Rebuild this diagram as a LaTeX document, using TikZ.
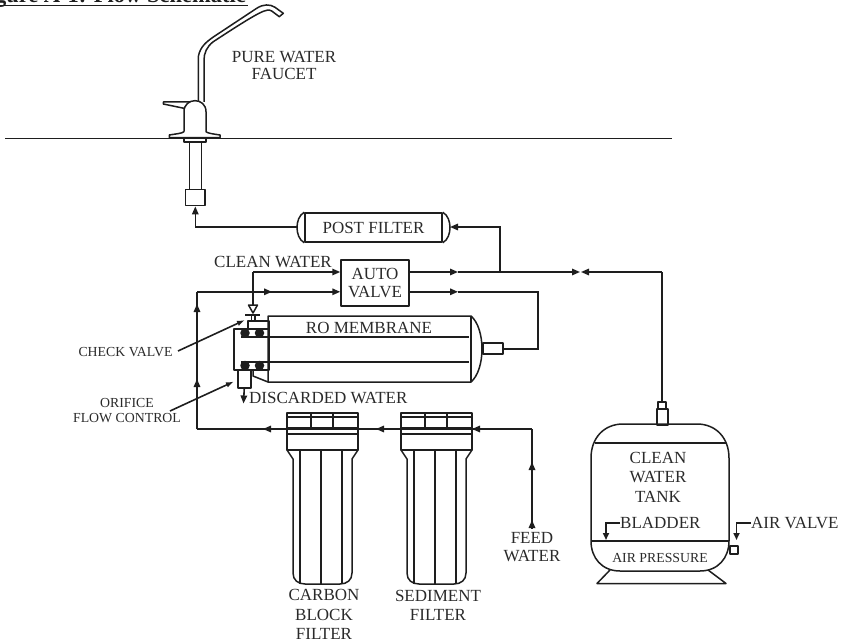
\documentclass[tikz,border=0pt]{standalone}
\usepackage{fontspec}
\setmainfont{Liberation Serif}
\usetikzlibrary{arrows.meta,decorations.markings}
\definecolor{ink}{HTML}{1E1E1E}
\definecolor{lbl}{HTML}{2A2A2A}
\newcommand{\bigf}{\fontsize{17}{18}\selectfont}
\newcommand{\smallf}{\fontsize{13.8}{15}\selectfont}
\tikzset{
  pipe/.style={draw=ink,line width=1.6pt,line join=miter},
  part/.style={draw=ink,line width=1.5pt,line join=round},
  flow/.style={pipe,-{Triangle[length=8pt,width=6.5pt]}},
  thinflow/.style={pipe,-{Latex[length=8pt,width=5.5pt]}},
  lab/.style={inner sep=0pt,text=lbl,font=\bigf,align=center},
  slab/.style={inner sep=0pt,text=lbl,font=\smallf,align=center},
  ring/.style={circle,fill=ink,inner sep=0pt,minimum size=9.5pt},
  sumpfilter/.pic={
    \draw[part] (0,413) rectangle (71,450);
    \draw[part] (0,417) -- (71,417);
    \draw[part] (0,428) -- (71,428);
    \draw[part] (0,434) -- (71,434);
    \draw[part] (24,413) -- (24,428);
    \draw[part] (46,413) -- (46,428);
    \draw[part] (0,450) -- (6,459) -- (6,573) .. controls (6,580) and (11,584) .. (18,584)
      -- (53,584) .. controls (60,584) and (65,580) .. (65,573) -- (65,459) -- (71,450);
    \draw[part] (13,450) -- (13,584);
    \draw[part] (34,450) -- (34,584);
    \draw[part] (55,450) -- (55,584);
  }
}
\begin{document}
\begin{tikzpicture}[x=1pt,y=-1pt]
\useasboundingbox (0,0) rectangle (847,642);
\clip (0,0) rectangle (847,642);

% title
\node[anchor=base east,inner sep=0pt,font=\bfseries\fontsize{22.5}{24}\selectfont,text=ink] (title) at (246,3) {Figure A-1: Flow Schematic};
\coordinate (ulL) at (0,5.5);
\coordinate (ulR) at (248,5.5);
\draw[draw=ink,line width=1.8pt] (ulL) -- (ulR);

% counter
\coordinate (ctrL) at (5,138.5);
\coordinate (ctrR) at (672,138.5);
\draw[draw=ink,line width=1.2pt] (ctrL) -- (ctrR);

% faucet
\draw[part,fill=white] (198.3,102) -- (198.3,56.7) .. controls (200,46.7) and (206.7,41.7) .. (213.3,37)
  -- (256.7,8.3) .. controls (263.3,4) and (270,4) .. (275,7.3) -- (283.3,13.3) -- (279.3,16.7) -- (271.7,11)
  .. controls (266.7,8.3) and (261.7,10) .. (213.3,41.7) .. controls (206.7,46.7) and (204,53.3) .. (204,60) -- (204,102);
\draw[part] (195,102) -- (163.3,102) -- (163.3,104) -- (184,108.3);
\draw[part,fill=white] (184,131.7) -- (184,111.7) .. controls (184,97) and (206,97) .. (206,111.7) -- (206,131.7)
  .. controls (208,133.5) and (214,134) .. (220,135) -- (220,137.7) -- (169.3,137.7) -- (169.3,135) .. controls (175,134) and (182,133.5) .. (184,131.7);
\draw[part] (184,138.5) rectangle (206,142);
\draw[part] (189.3,142) -- (189.3,190);
\draw[part] (201.7,142) -- (201.7,190);
\node[part,fill=white,minimum width=19.5pt,minimum height=16pt,inner sep=0pt] (inlet) at (195.3,197.7) {};

\node[lab] (faucetlab) at (284,65.5) {PURE WATER\\[-0.4pt]FAUCET};

% post filter
\node[part,minimum width=137pt,minimum height=29pt,inner sep=0pt,lab] (post) at (373.5,227.5) {POST FILTER};
\draw[part] (post.north west) .. controls (299,215) and (297,222) .. (297,227.5) .. controls (297,233) and (299,240) .. (post.south west);
\draw[part] (post.north east) .. controls (448,215) and (450,222) .. (450,227.5) .. controls (450,233) and (448,240) .. (post.south east);
\coordinate (postL) at (297,227);
\coordinate (postR) at (450,227);

% auto valve
\node[part,minimum width=68pt,minimum height=46pt,inner sep=0pt,lab] (auto) at (375,283) {AUTO\\VALVE};

% membrane
\coordinate (mTL) at (268,316);
\coordinate (mTR) at (471,316);
\coordinate (mBR) at (471,382);
\coordinate (mBL) at (268,382);
\draw[part] (mTL) -- (mTR) .. controls (478,322) and (482,335) .. (482,349) .. controls (482,363) and (478,376) .. (mBR) -- (mBL) -- cycle;
\draw[part] (mTR) -- (mBR);
\draw[part] (241,337) -- (469,337);
\draw[part] (241,362) -- (469,362);
\node[part,minimum width=20pt,minimum height=11pt,inner sep=0pt,anchor=west,fill=white] (port) at (482,348.5) {};
\node[lab] (rolab) at (369,328) {RO MEMBRANE};

% end block
\node[part,minimum width=35pt,minimum height=41pt,inner sep=0pt,anchor=north west] (block) at (233,328) {};
\node[part,minimum width=21pt,minimum height=8pt,inner sep=0pt,anchor=north west] (checkbox) at (247,320) {};
\node[ring] (r1) at (245,333) {};
\node[ring] (r2) at (259.5,333) {};
\node[ring] (r3) at (245,365.5) {};
\node[ring] (r4) at (259.5,365.5) {};
\node[part,minimum width=13pt,minimum height=18pt,inner sep=0pt,anchor=north west,fill=white] (orifice) at (237,369) {};
\draw[part] (253,369) -- (253,376) -- (268,382);

% check valve symbol
\coordinate (cvtip) at (253,313);
\coordinate (cvL) at (245,315);
\coordinate (cvR) at (260,315);
\draw[part] (cvL) -- (cvR);
\draw[part] (251.5,315) -- (251.5,320);
\draw[part] (255,315) -- (255,320);
\draw[part,fill=white] (248.5,305) -- (257.5,305) -- (cvtip) -- cycle;

% piping
\coordinate (cwc) at (253,272);
\coordinate (cwtop) at (253,305);
\draw[pipe] (cwtop) -- (cwc);
\draw[flow] (cwc) -- (cwc -| auto.west);
\node[lab,anchor=east] (cwlab) at (332,262) {CLEAN WATER};

\coordinate (lc) at (197,291.8);
\coordinate (lb) at (197,429);
\coordinate (a1) at (272,291.8);
\coordinate (a2) at (197,304);
\coordinate (a3) at (197,379);
\draw[flow] (lc) -- (a1);
\draw[flow] (lc) -- (lc -| auto.west);
\draw[flow] (lb) -- (a3);
\draw[flow] (lb) -- (a2);
\draw[pipe] (lb) -- (lc);

% auto valve outputs
\coordinate (j1) at (500,272);
\coordinate (a4) at (458,272);
\coordinate (a5) at (458,291.8);
\coordinate (rc1) at (538,291.8);
\coordinate (rc2) at (538,349);
\draw[flow] (auto.east |- j1) -- (a4);
\draw[pipe] (a4) -- (j1);
\draw[flow] (auto.east |- a5) -- (a5);
\draw[pipe] (a5) -- (rc1) -- (rc2) -- (port.east |- rc2);

% post filter connections
\draw[flow] (j1) -- (j1 |- postR) -- (postR);
\coordinate (ic) at (195.3,227);
\draw[flow] (postL) -- (ic) -- (inlet.south);

% tank
\coordinate (tankC) at (662,272);
\coordinate (a6) at (580,272);
\coordinate (a7) at (581,272);
\draw[flow] (j1) -- (a6);
\draw[flow] (tankC) -- (a7);
\node[part,minimum width=8pt,minimum height=7pt,inner sep=0pt,anchor=north] (tankn1) at (662,401) {};
\node[part,minimum width=11pt,minimum height=16pt,inner sep=0pt,anchor=north] (tankn2) at (662.5,408) {};
\draw[pipe] (tankC) -- (tankn1.north);

\draw[part] (623,424) -- (697,424) .. controls (716,424) and (729,438) .. (729,458)
  -- (729,541) .. controls (729,558) and (718,571) .. (700,571) -- (620,571)
  .. controls (602,571) and (591,558) .. (591,541) -- (591,458) .. controls (591,438) and (604,424) .. (623,424) -- cycle;
\draw[part] (594.5,443) -- (725.5,443);
\draw[part] (591,541) -- (729,541);
\draw[part] (610,570) -- (597,583.5) -- (726,583.5) -- (708,570);
\node[lab] (tanklab) at (658,477) {CLEAN\\[1.5pt]WATER\\[1.5pt]TANK};
\node[slab] (airp) at (660,558) {AIR PRESSURE};
\node[part,minimum width=8pt,minimum height=8pt,inner sep=0pt,anchor=north west] (airv) at (729,545) {};
\node[lab,anchor=west] (bladder) at (620,523) {BLADDER};
\node[lab,anchor=west] (airvlab) at (751,523) {AIR VALVE};
\coordinate (bc) at (606,523);
\coordinate (bt) at (606,540);
\coordinate (ac) at (736.5,523);
\draw[pipe,-{Triangle[length=7pt,width=6pt]}] (bladder.west) -- (bc) -- (bt);
\draw[pipe,-{Triangle[length=7pt,width=6pt]}] (airvlab.west) -- (ac) -- (736.5,540);

% filters
\path (287,0) pic {sumpfilter};
\path (401,0) pic {sumpfilter};
\coordinate (fc) at (532,429);
\coordinate (fb) at (532,528);
\coordinate (a8) at (263,429);
\coordinate (a9) at (376,429);
\coordinate (a10) at (472,429);
\coordinate (a11) at (532,462);
\coordinate (a12) at (532,520);
\draw[pipe] (fc) -- (lb);
\draw[flow] (fc) -- (a10);
\draw[flow] (a10) -- (a9);
\draw[flow] (a9) -- (a8);
\draw[flow] (fb) -- (a11);
\draw[flow] (fb) -- (a12);
\draw[pipe] (fb) -- (fc);

\node[lab] (feed) at (532,547) {FEED\\[0.5pt]WATER};
\node[lab] (carbon) at (324,614.5) {CARBON\\[1.5pt]BLOCK\\[1.5pt]FILTER};
\node[lab] (sediment) at (438,605.5) {SEDIMENT\\[1.5pt]FILTER};

% callouts
\node[slab] (cv) at (125.5,352) {CHECK VALVE};
\node[slab] (ofc) at (127,410.5) {ORIFICE\\FLOW CONTROL};
\coordinate (cvt) at (245,320);
\coordinate (oft) at (234,381.5);
\draw[thinflow] (178,351) -- (cvt);
\draw[thinflow] (170,411) -- (oft);

% discarded
\draw[flow] (orifice.south) -- (243.5,403.5);
\node[lab,anchor=west] (disc) at (249,398) {DISCARDED WATER};
\end{tikzpicture}
\end{document}
